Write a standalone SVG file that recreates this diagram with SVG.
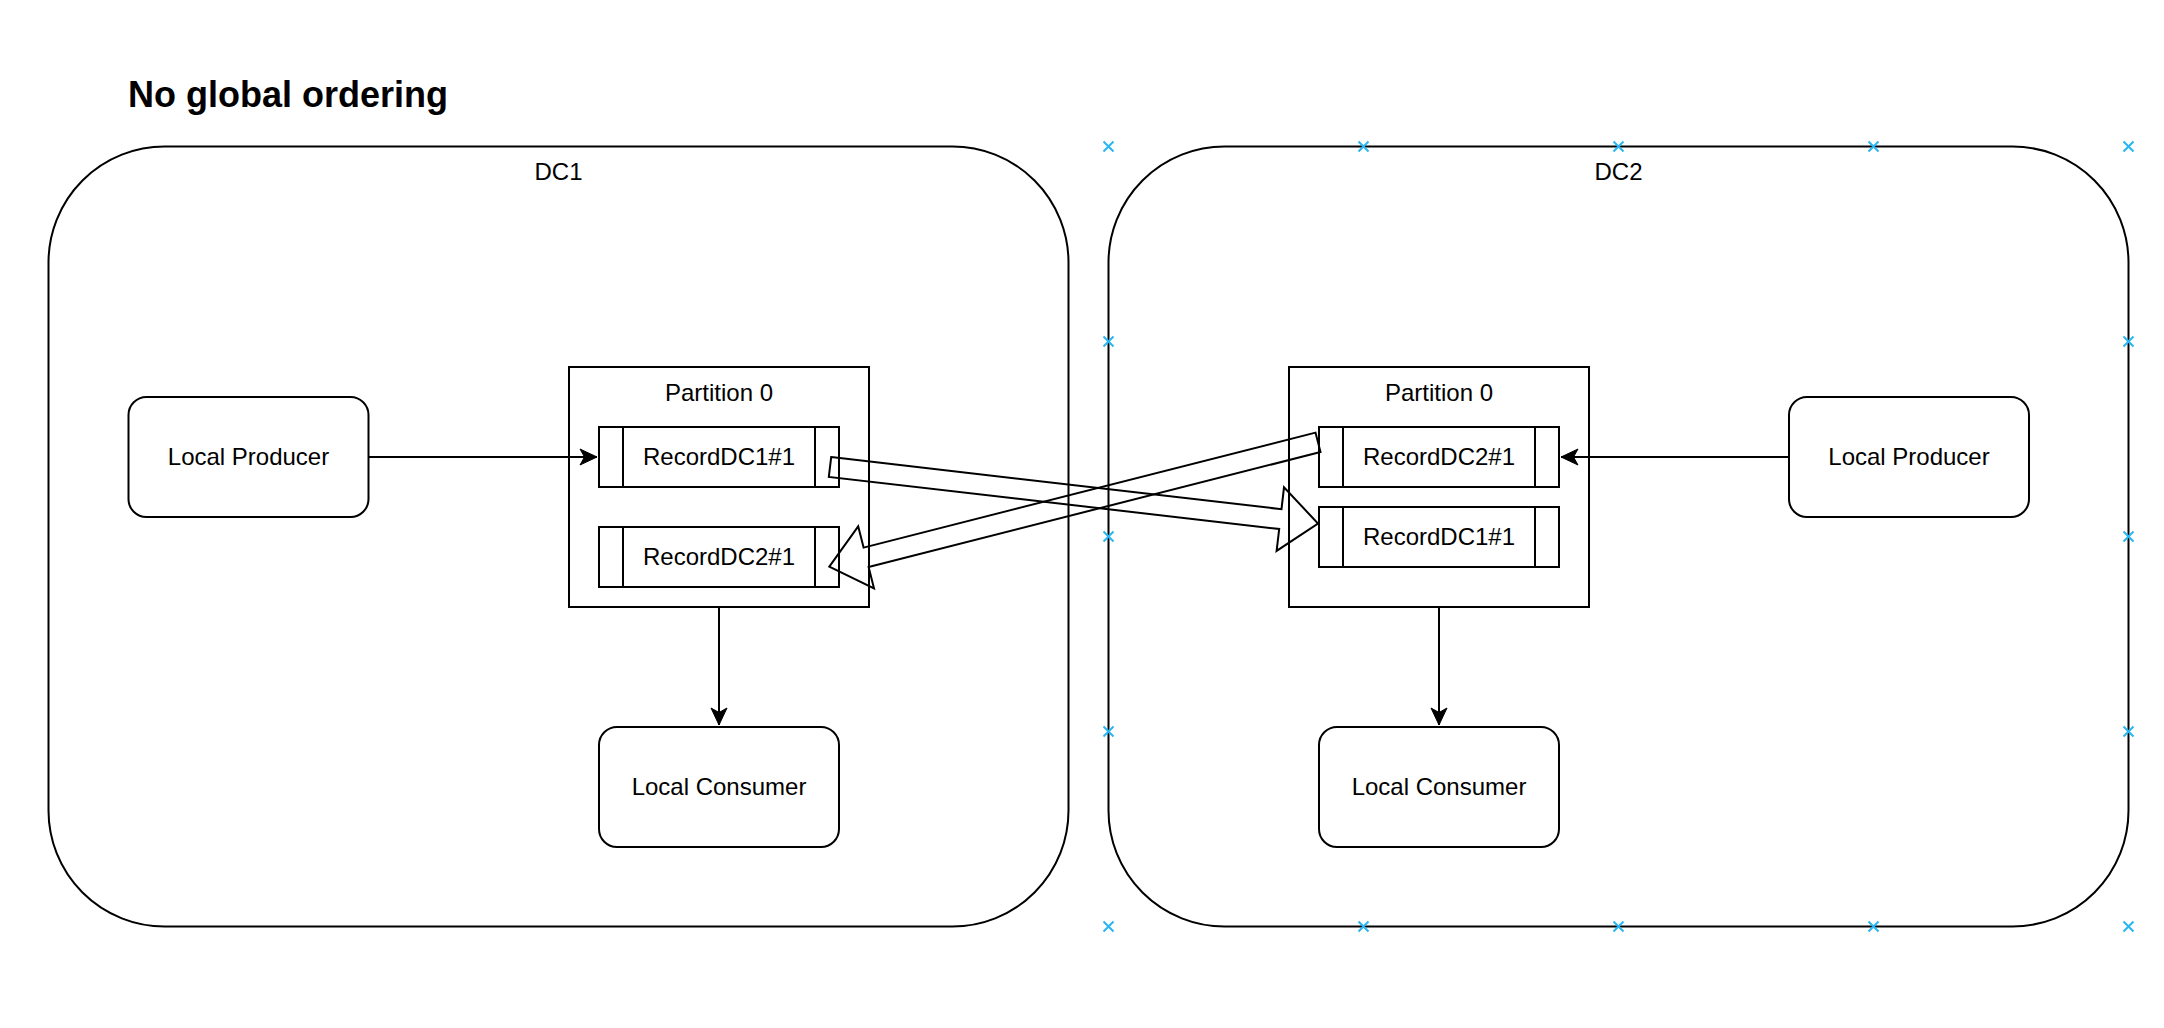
<svg xmlns="http://www.w3.org/2000/svg" width="2164" height="1028" viewBox="0 0 2164 1028">
<style>
.box{fill:#ffffff;stroke:#000000;stroke-width:2}
.cont{fill:none;stroke:#000000;stroke-width:2}
.ln{fill:none;stroke:#000000;stroke-width:2}
.flex{fill:none;stroke:#000000;stroke-width:2;stroke-linejoin:miter}
.t{font-family:"Liberation Sans",Arial,sans-serif;font-size:24px;fill:#000000;text-anchor:middle}
.title{font-family:"Liberation Sans",Arial,sans-serif;font-size:36px;font-weight:bold;fill:#000000}
.hx{stroke:#29b6f2;stroke-width:2;fill:none}
</style>
<defs>
<marker id="arr" markerWidth="20" markerHeight="20" viewBox="-18 -9 20 18" refX="0" refY="0" orient="auto" markerUnits="userSpaceOnUse">
<path d="M0,0 L-17,-8 L-12.5,0 L-17,8 Z" fill="#000000" stroke="#000000" stroke-width="1"/>
</marker>
<path id="hxs" d="M-5,-5 L5,5 M-5,5 L5,-5"/>
</defs>
<rect width="2164" height="1028" fill="#ffffff"/>
<text class="title" x="128" y="107">No global ordering</text>

<g id="dc1">
<rect class="cont" x="48.5" y="146.5" width="1020" height="780" rx="116" ry="116"/>
<text class="t" x="558.5" y="180">DC1</text>
</g>
<g id="dc2">
<rect class="cont" x="1108.5" y="146.5" width="1020" height="780" rx="116" ry="116"/>
<text class="t" x="1618.5" y="180">DC2</text>
</g>

<g id="dc1-producer">
<rect class="box" x="128.5" y="397" width="240" height="120" rx="18" ry="18"/>
<text class="t" x="248.5" y="464.5">Local Producer</text>
</g>
<g id="dc1-partition">
<rect class="box" x="569" y="367" width="300" height="240"/>
<text class="t" x="719" y="400.5">Partition 0</text>
</g>
<g id="dc1-record1">
<rect class="box" x="599" y="427" width="240" height="60"/>
<path class="ln" d="M623,427 V487 M815,427 V487"/>
<text class="t" x="719" y="464.5">RecordDC1#1</text>
</g>
<g id="dc1-record2">
<rect class="box" x="599" y="527" width="240" height="60"/>
<path class="ln" d="M623,527 V587 M815,527 V587"/>
<text class="t" x="719" y="564.5">RecordDC2#1</text>
</g>
<g id="dc1-consumer">
<rect class="box" x="599" y="727" width="240" height="120" rx="18" ry="18"/>
<text class="t" x="719" y="794.5">Local Consumer</text>
</g>

<g id="dc2-producer">
<rect class="box" x="1789" y="397" width="240" height="120" rx="18" ry="18"/>
<text class="t" x="1909" y="464.5">Local Producer</text>
</g>
<g id="dc2-partition">
<rect class="box" x="1289" y="367" width="300" height="240"/>
<text class="t" x="1439" y="400.5">Partition 0</text>
</g>
<g id="dc2-record1">
<rect class="box" x="1319" y="427" width="240" height="60"/>
<path class="ln" d="M1343,427 V487 M1535,427 V487"/>
<text class="t" x="1439" y="464.5">RecordDC2#1</text>
</g>
<g id="dc2-record2">
<rect class="box" x="1319" y="507" width="240" height="60"/>
<path class="ln" d="M1343,507 V567 M1535,507 V567"/>
<text class="t" x="1439" y="544.5">RecordDC1#1</text>
</g>
<g id="dc2-consumer">
<rect class="box" x="1319" y="727" width="240" height="120" rx="18" ry="18"/>
<text class="t" x="1439" y="794.5">Local Consumer</text>
</g>

<g id="connectors">
<path class="ln" d="M368.5,457 L597,457" marker-end="url(#arr)"/>
<path class="ln" d="M1789,457 L1561,457" marker-end="url(#arr)"/>
<path class="ln" d="M719,607 L719,725" marker-end="url(#arr)"/>
<path class="ln" d="M1439,607 L1439,725" marker-end="url(#arr)"/>
<polygon class="flex" points="831.2,457.1 1281.5,509.2 1284,487.3 1318,523.5 1276.6,550.9 1279.2,529 828.8,476.9"/>
<polygon class="flex" points="1315.5,432.6 863.6,547.6 858.2,526.3 829.3,566.7 874,588.3 868.6,567 1320.5,452"/>
</g>

<g id="handles">
<use href="#hxs" class="hx" x="1108.5" y="146.5"/>
<use href="#hxs" class="hx" x="1363.5" y="146.5"/>
<use href="#hxs" class="hx" x="1618.5" y="146.5"/>
<use href="#hxs" class="hx" x="1873.5" y="146.5"/>
<use href="#hxs" class="hx" x="2128.5" y="146.5"/>
<use href="#hxs" class="hx" x="1108.5" y="926.5"/>
<use href="#hxs" class="hx" x="1363.5" y="926.5"/>
<use href="#hxs" class="hx" x="1618.5" y="926.5"/>
<use href="#hxs" class="hx" x="1873.5" y="926.5"/>
<use href="#hxs" class="hx" x="2128.5" y="926.5"/>
<use href="#hxs" class="hx" x="1108.5" y="341.5"/>
<use href="#hxs" class="hx" x="1108.5" y="536.5"/>
<use href="#hxs" class="hx" x="1108.5" y="731.5"/>
<use href="#hxs" class="hx" x="2128.5" y="341.5"/>
<use href="#hxs" class="hx" x="2128.5" y="536.5"/>
<use href="#hxs" class="hx" x="2128.5" y="731.5"/>
</g>
</svg>
